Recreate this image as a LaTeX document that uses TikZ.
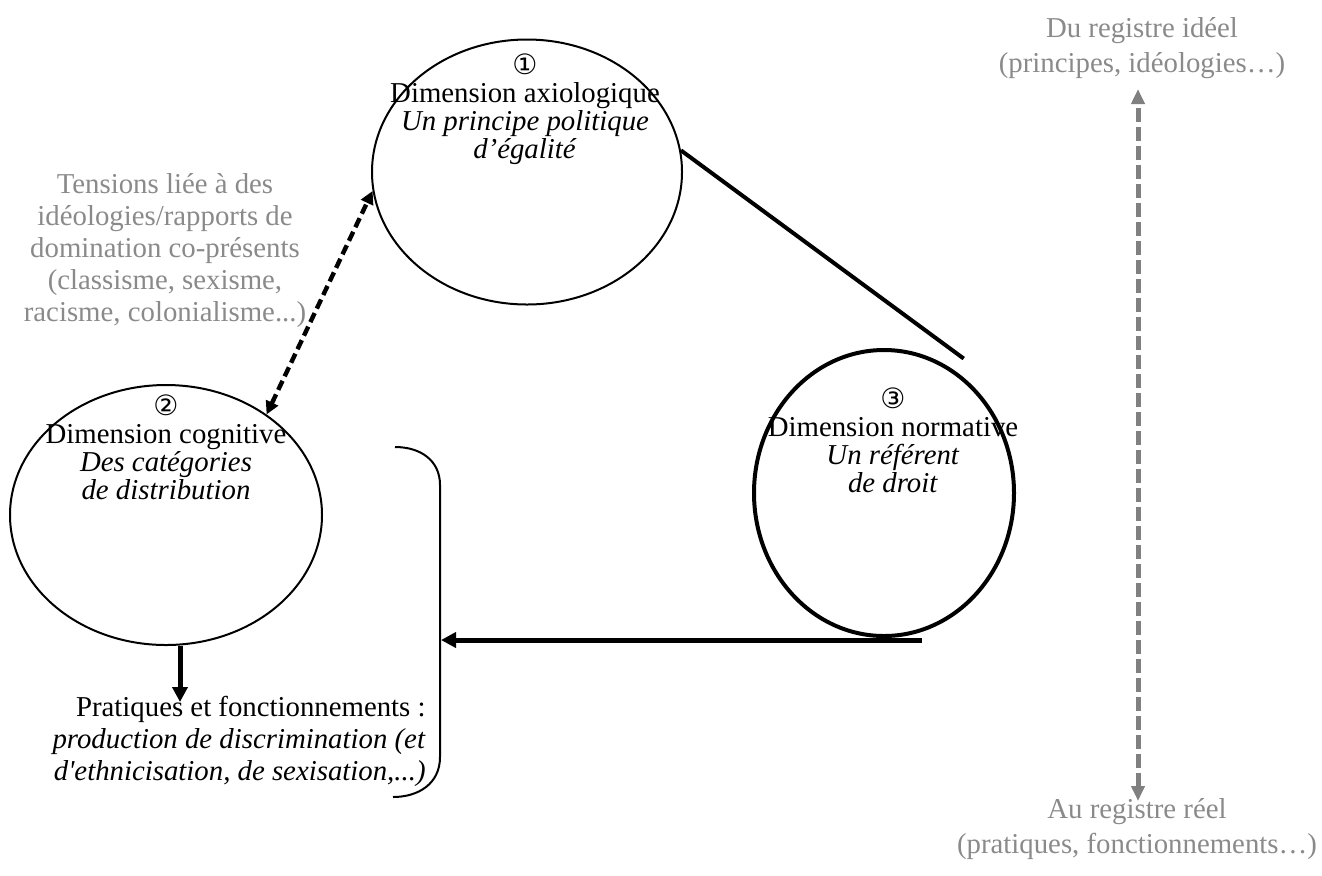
\documentclass[tikz,border=0pt]{standalone}
\usepackage{fontspec}
\setmainfont{Liberation Serif}[Ligatures=TeXOff]
\newfontfamily\circfont{DejaVu Sans}
\usetikzlibrary{shapes.geometric,arrows.meta,calc}
\definecolor{arrowgray}{RGB}{128,128,128}
\definecolor{textgray}{RGB}{138,138,138}
\begin{document}
\begin{tikzpicture}[x=0.5pt,y=-0.5pt,
  circ/.style={ellipse, draw, line width=1pt, inner sep=0pt},
  circthick/.style={circ, line width=2pt},
  ctext/.style={align=center, inner sep=0pt, font=\fontsize{14.4}{14}\selectfont},
  gtext/.style={align=center, inner sep=0pt, text=textgray, font=\fontsize{14.4}{16}\selectfont},
  rtext/.style={align=center, inner sep=0pt, text=textgray, font=\fontsize{14.4}{17.5}\selectfont},
  btext/.style={align=right, inner sep=0pt, font=\fontsize{14.4}{16}\selectfont},
  solidarrow/.style={line width=2.5pt, -{Triangle[length=7.5pt,width=7.5pt]}},
  dasharrow/.style={line width=2.2pt, dash pattern=on 5pt off 2.5pt, {Triangle[length=6.5pt,width=6.5pt]}-{Triangle[length=6.5pt,width=6.5pt]}},
  grayarrow/.style={line width=2.5pt, draw=arrowgray, dash pattern=on 7pt off 2.5pt, {Triangle[length=7.5pt,width=6.5pt]}-{Triangle[length=7.5pt,width=6.5pt]}},
  link/.style={line width=2pt},
  bracket/.style={line width=1pt}
]
\useasboundingbox (0,0) rectangle (1322,875);

% circles
\node[circ, minimum width=155pt, minimum height=132.5pt] (c1) at (527,172) {};
\node[circ, minimum width=156pt, minimum height=130pt] (c2) at (166,515) {};
\node[circthick, minimum width=130pt, minimum height=143pt] (c3) at (884,493) {};

% circle texts
\node[ctext] (t1) at (525,109) {{\circfont\fontsize{14}{14}\selectfont ①}\\Dimension axiologique\\\textit{Un principe politique}\\\textit{d’égalité}};
\node[ctext] (t2) at (166,447) {{\circfont\fontsize{14}{14}\selectfont ②}\\Dimension cognitive\\\textit{Des catégories}\\\textit{de distribution}};
\node[ctext] (t3) at (893,440) {{\circfont\fontsize{14}{14}\selectfont ③}\\Dimension normative\\\textit{Un référent}\\\textit{de droit}};

% gray texts
\node[gtext] (tens) at (165,251) {Tensions liée à des\\idéologies/rapports de\\domination co-présents\\(classisme, sexisme,\\racisme, colonialisme...)};
\node[rtext] (ideal) at (1142,48) {Du registre idéel\\(principes, idéologies…)};
\node[rtext] (reel) at (1137,829) {Au registre réel\\(pratiques, fonctionnements…)};

% bottom text
\node[btext, anchor=east] (prat) at (426,741) {Pratiques et fonctionnements :\\\textit{production de discrimination (et}\\\textit{d'ethnicisation, de sexisation,...)}};

% bracket
\coordinate (bt) at (395,447);
\coordinate (bb) at (393,797);
\coordinate (bk) at (441,640);
\draw[bracket] (bt) .. controls (420,447) and (440,460) .. (440,485)
  -- (440,757) .. controls (440,784) and (418,797) .. (bb);

% connectors
\draw[link] (c1.8) -- ($(c3.60)+(9,-12)$);
\draw[dasharrow] (c2.45) -- (c1.187);
\coordinate (ha) at (922,640);
\draw[solidarrow] (ha) -- (bk);
\coordinate (da) at (180,702);
\draw[solidarrow] (c2.south -| da) -- (da);
\coordinate (g1) at (1138,89);
\coordinate (g2) at (1138,801);
\draw[grayarrow] (g2) -- (g1);
\end{tikzpicture}
\end{document}
